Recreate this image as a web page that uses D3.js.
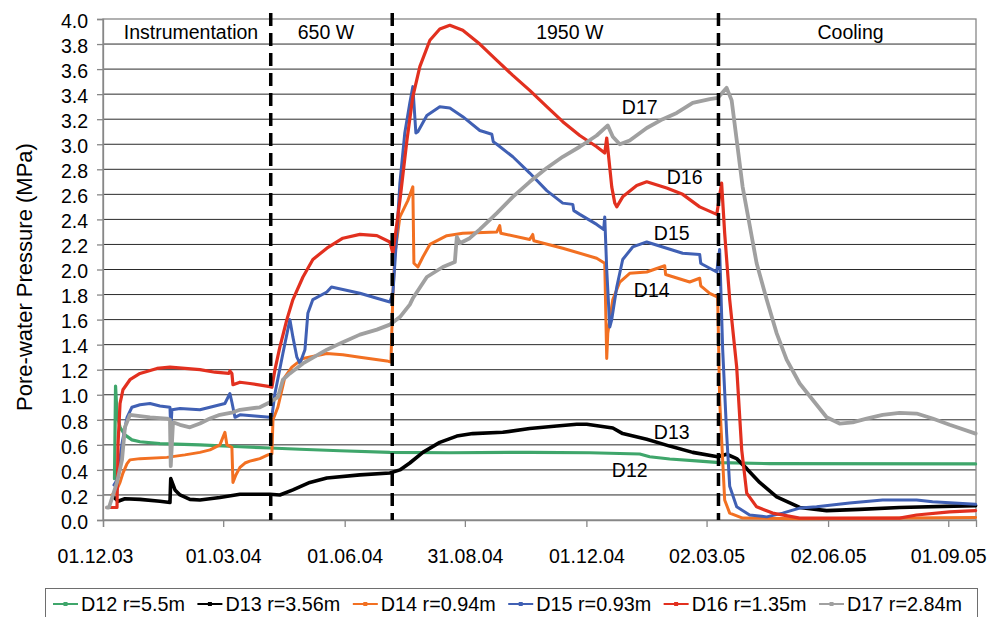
<!DOCTYPE html>
<html>
<head>
<meta charset="utf-8">
<script src="https://cdn.jsdelivr.net/npm/d3@7"></script>
<style>
  html, body { margin: 0; padding: 0; background: #fff; }
  svg { display: block; font-family: "Liberation Sans", Arial, sans-serif; }
</style>
</head>
<body>
<svg id="chart" width="1002" height="617"></svg>
<script>
// Pore-water pressure in the buffer around the heater.
// Each record: [days since 1 Dec 2003, pressure in MPa]
const recordStart = "2003-12-01";
const axisEnd = "2005-09-22";

const d12 = [[8.7,0.33],[9.5,1.07],[10.6,0.85],[12.9,0.74],[16.6,0.68],[21.9,0.64],[28.0,0.625],[43.1,0.61],[73.4,0.60],[103.7,0.585],[126.4,0.575],[149.1,0.565],[179.4,0.553],[217.2,0.54],[262.6,0.537],[323.1,0.54],[368.5,0.537],[406.4,0.527],[413.9,0.505],[429.1,0.487],[451.8,0.47],[466.9,0.458],[504.8,0.45],[660.7,0.448]];

const d13 = [[7.6,0.19],[11.4,0.15],[16.6,0.17],[28.0,0.165],[43.1,0.15],[50.7,0.14],[51.3,0.33],[54.5,0.24],[58.3,0.20],[65.8,0.165],[73.4,0.16],[88.5,0.18],[103.7,0.205],[126.4,0.205],[133.9,0.20],[143.8,0.24],[156.6,0.30],[169.5,0.335],[194.5,0.36],[217.2,0.375],[224.8,0.40],[232.3,0.455],[242.2,0.54],[255.0,0.62],[267.9,0.67],[280.0,0.69],[302.7,0.70],[323.1,0.73],[343.6,0.75],[358.7,0.765],[366.3,0.765],[386.0,0.735],[393.5,0.69],[411.7,0.645],[429.1,0.59],[446.5,0.54],[465.4,0.505],[472.2,0.525],[479.8,0.49],[487.4,0.41],[497.2,0.30],[510.1,0.185],[527.5,0.10],[547.9,0.075],[572.9,0.085],[603.1,0.10],[660.7,0.115]];

const d14 = [[6.8,0.20],[9.1,0.21],[12.9,0.30],[15.1,0.375],[18.2,0.45],[20.4,0.48],[28.0,0.49],[48.4,0.50],[62.0,0.52],[73.4,0.54],[81.0,0.56],[84.8,0.58],[88.5,0.60],[92.3,0.70],[93.8,0.60],[97.6,0.58],[98.4,0.30],[100.6,0.36],[103.7,0.42],[107.5,0.455],[111.2,0.47],[118.8,0.49],[124.9,0.52],[127.9,0.53],[128.7,0.80],[132.4,0.90],[137.7,1.14],[143.0,1.22],[151.4,1.29],[169.5,1.33],[181.6,1.32],[194.5,1.30],[214.9,1.27],[218.0,1.26],[219.5,1.80],[221.0,2.12],[224.8,2.42],[230.8,2.55],[234.6,2.66],[235.4,2.05],[238.4,2.02],[242.2,2.10],[247.5,2.20],[260.3,2.27],[272.4,2.29],[298.2,2.30],[300.4,2.35],[301.2,2.29],[323.1,2.24],[325.4,2.28],[326.2,2.23],[348.1,2.17],[373.8,2.09],[379.9,2.05],[381.4,1.29],[382.2,1.49],[386.0,1.76],[391.3,1.90],[398.8,1.97],[411.7,1.98],[425.3,2.03],[426.0,1.96],[444.2,1.90],[451.8,1.93],[452.6,1.87],[459.4,1.81],[465.4,1.78],[466.9,0.96],[470.7,0.16],[474.5,0.055],[484.3,0.015],[527.5,0.01],[660.7,0.02]];

const d15 = [[8.3,0.28],[10.6,0.32],[14.4,0.61],[18.2,0.82],[21.9,0.90],[28.0,0.92],[35.6,0.93],[43.1,0.91],[50.7,0.90],[51.3,0.72],[52.2,0.88],[58.3,0.89],[73.4,0.88],[84.8,0.91],[92.3,0.93],[96.1,1.01],[97.6,0.94],[99.9,0.82],[103.7,0.84],[115.0,0.83],[126.4,0.82],[127.9,0.83],[130.2,1.01],[136.2,1.33],[141.5,1.60],[143.8,1.46],[146.8,1.30],[149.1,1.25],[152.9,1.36],[155.1,1.65],[158.9,1.76],[169.5,1.82],[173.0,1.86],[181.6,1.84],[194.5,1.81],[207.4,1.77],[217.2,1.74],[219.5,1.81],[222.5,2.29],[224.8,2.69],[228.5,3.09],[232.3,3.33],[234.6,3.46],[236.9,3.09],[238.4,3.10],[245.2,3.23],[255.0,3.30],[262.6,3.29],[272.4,3.22],[285.3,3.11],[294.4,3.08],[295.5,3.02],[298.2,3.00],[310.3,2.90],[323.1,2.77],[336.0,2.63],[348.1,2.53],[355.7,2.52],[356.5,2.47],[361.0,2.44],[373.8,2.36],[379.1,2.32],[379.9,2.42],[381.4,2.00],[383.7,1.54],[385.2,1.60],[389.0,1.86],[393.5,2.08],[401.1,2.18],[411.7,2.22],[423.8,2.18],[438.9,2.13],[451.8,2.12],[452.6,2.05],[454.1,2.04],[464.7,1.98],[466.9,2.16],[469.2,1.36],[472.2,0.69],[474.5,0.27],[479.8,0.105],[489.6,0.04],[502.5,0.025],[514.6,0.055],[527.5,0.095],[540.3,0.105],[565.3,0.135],[590.3,0.16],[616.0,0.16],[628.1,0.145],[660.7,0.125]];

const d16 = [[3.0,0.10],[10.6,0.10],[11.4,0.61],[12.9,0.93],[15.1,1.04],[20.4,1.12],[28.0,1.17],[40.9,1.21],[50.7,1.22],[73.4,1.20],[84.8,1.18],[95.3,1.17],[96.1,1.19],[97.6,1.17],[98.4,1.08],[103.7,1.10],[111.2,1.09],[126.4,1.065],[127.9,1.06],[130.2,1.20],[133.9,1.38],[139.2,1.60],[143.8,1.76],[151.4,1.94],[158.9,2.08],[169.5,2.17],[181.6,2.25],[194.5,2.28],[207.4,2.27],[217.2,2.22],[219.5,2.13],[224.8,2.55],[230.1,3.03],[234.6,3.38],[239.9,3.62],[247.5,3.83],[255.0,3.92],[262.6,3.95],[272.4,3.91],[285.3,3.80],[298.2,3.67],[310.3,3.55],[323.1,3.43],[336.0,3.30],[348.1,3.18],[361.0,3.07],[373.8,2.98],[379.9,2.93],[381.4,3.05],[385.2,2.66],[387.5,2.53],[389.0,2.50],[393.5,2.58],[404.1,2.67],[411.7,2.70],[426.8,2.65],[438.9,2.60],[451.8,2.50],[464.7,2.44],[468.4,2.69],[470.7,2.29],[474.5,1.76],[479.8,1.22],[483.6,0.56],[487.4,0.215],[494.9,0.105],[507.0,0.055],[527.5,0.015],[603.1,0.015],[616.0,0.04],[641.0,0.065],[660.7,0.075]];

const d17 = [[3.0,0.10],[4.5,0.10],[7.6,0.20],[10.6,0.30],[14.4,0.48],[16.6,0.74],[20.4,0.84],[35.6,0.82],[48.4,0.81],[50.7,0.80],[51.3,0.43],[53.0,0.78],[58.3,0.76],[65.8,0.74],[73.4,0.77],[81.0,0.81],[88.5,0.84],[98.4,0.86],[103.7,0.88],[118.8,0.90],[126.4,0.94],[132.4,0.98],[136.2,1.12],[141.5,1.17],[151.4,1.25],[169.5,1.36],[181.6,1.42],[194.5,1.48],[207.4,1.52],[217.2,1.56],[224.8,1.62],[232.3,1.72],[234.6,1.77],[245.2,1.94],[257.3,2.02],[266.4,2.06],[267.9,2.26],[270.2,2.21],[277.7,2.25],[285.3,2.32],[298.2,2.45],[310.3,2.58],[323.1,2.70],[336.0,2.81],[348.1,2.90],[361.0,2.98],[373.8,3.07],[382.2,3.15],[386.0,3.06],[391.3,3.00],[398.8,3.03],[411.7,3.13],[423.8,3.20],[434.4,3.25],[446.5,3.33],[459.4,3.36],[465.4,3.37],[472.2,3.45],[476.0,3.35],[484.3,2.66],[494.9,2.05],[502.5,1.76],[510.1,1.49],[517.6,1.28],[527.5,1.09],[537.3,0.96],[547.9,0.82],[557.7,0.77],[567.6,0.78],[578.2,0.81],[590.3,0.84],[603.1,0.855],[616.0,0.85],[628.1,0.81],[641.0,0.76],[660.7,0.69]];

const seriesData   = [d12, d13, d14, d15, d16, d17];
const seriesNames  = ["D12 r=5.5m", "D13 r=3.56m", "D14 r=0.94m", "D15 r=0.93m", "D16 r=1.35m", "D17 r=2.84m"];
const seriesShort  = ["D12", "D13", "D14", "D15", "D16", "D17"];
const seriesColors = ["#3fa66b", "#000000", "#f27022", "#4060b4", "#e2301f", "#a0a0a0"];
const seriesWidths = [3.2, 3.6, 3, 3, 3.2, 3.8];

// Curve name tags: [day, MPa]
const tagPositions = [[398.8, 0.40], [430.6, 0.70], [415.5, 1.84], [430.6, 2.29], [440.4, 2.74], [406.4, 3.30]];

// Heating phases
const phaseBounds = ["2004-04-06", "2004-07-07", "2005-03-11"];
const phaseNames  = ["Instrumentation", "650 W", "1950 W", "Cooling"];
const phaseTagDays = [66.6, 168.8, 353.4, 566];
const phaseTagLevel = 3.84;

// Axis ticks
const xTickDates = ["2003-12-01", "2004-03-01", "2004-06-01", "2004-08-31", "2004-12-01", "2005-03-02", "2005-06-02", "2005-09-01"];
const yTickValues = [0, 0.2, 0.4, 0.6, 0.8, 1.0, 1.2, 1.4, 1.6, 1.8, 2.0, 2.2, 2.4, 2.6, 2.8, 3.0, 3.2, 3.4, 3.6, 3.8, 4.0];

const parseDay = d3.utcParse("%Y-%m-%d");
const t0 = parseDay(recordStart).getTime();
const dayToDate = d => new Date(t0 + d * 864e5);

const svg = d3.select("#chart");
const W = 1002, H = 617;
const plot = { left: 103, right: 976, top: 19, bottom: 520 };
const fontSize = 19.5;

svg.append("rect").attr("width", W).attr("height", H).attr("fill", "#fff");

const x = d3.scaleUtc()
  .domain([parseDay(recordStart), parseDay(axisEnd)])
  .range([plot.left, plot.right]);
const y = d3.scaleLinear().domain([0, 4]).range([plot.bottom, plot.top]);

// Horizontal gridlines
svg.append("g")
  .selectAll("line")
  .data(yTickValues.filter(v => v > 0 && v < 4))
  .join("line")
  .attr("x1", plot.left).attr("x2", plot.right)
  .attr("y1", d => y(d)).attr("y2", d => y(d))
  .attr("stroke", "#2a2a2a").attr("stroke-width", 1);

// Plot frame
svg.append("rect")
  .attr("x", plot.left).attr("y", plot.top)
  .attr("width", plot.right - plot.left).attr("height", plot.bottom - plot.top)
  .attr("fill", "none").attr("stroke", "#878787").attr("stroke-width", 1.3);

// Y axis
const yAxis = svg.append("g")
  .attr("transform", `translate(${plot.left},0)`)
  .call(d3.axisLeft(y).tickValues(yTickValues).tickFormat(d3.format(".1f")).tickSize(6).tickPadding(9));
yAxis.select(".domain").attr("stroke", "#878787").attr("stroke-width", 1.3);
yAxis.selectAll(".tick line").attr("stroke", "#878787").attr("stroke-width", 1.3);
yAxis.selectAll(".tick text")
  .attr("font-size", fontSize).attr("font-family", "Liberation Sans, Arial, sans-serif")
  .attr("fill", "#000").attr("dy", "0.42em");

// X axis
const xAxis = svg.append("g")
  .attr("transform", `translate(0,${plot.bottom})`)
  .call(d3.axisBottom(x).tickValues(xTickDates.map(parseDay)).tickFormat(d3.utcFormat("%d.%m.%y")).tickSize(7).tickPadding(22));
xAxis.select(".domain").attr("stroke", "#878787").attr("stroke-width", 1.3);
xAxis.selectAll(".tick line").attr("stroke", "#878787").attr("stroke-width", 1.3);
xAxis.selectAll(".tick text")
  .attr("font-size", fontSize).attr("font-family", "Liberation Sans, Arial, sans-serif")
  .attr("fill", "#000")
  .attr("dx", (d, i) => i === 0 ? -8 : 0);

// Series lines
const line = d3.line()
  .x(d => x(dayToDate(d[0])))
  .y(d => y(d[1]));

svg.append("g")
  .selectAll("path")
  .data(seriesData)
  .join("path")
  .attr("d", line)
  .attr("fill", "none")
  .attr("stroke", (d, i) => seriesColors[i])
  .attr("stroke-width", (d, i) => seriesWidths[i])
  .attr("stroke-linejoin", "round")
  .attr("stroke-linecap", "round");

// Phase boundaries
svg.append("g")
  .selectAll("line")
  .data(phaseBounds)
  .join("line")
  .attr("x1", d => x(parseDay(d))).attr("x2", d => x(parseDay(d)))
  .attr("y1", plot.top - 6).attr("y2", plot.bottom)
  .attr("stroke", "#000").attr("stroke-width", 3.5)
  .attr("stroke-dasharray", "13,7");

// Phase names
svg.append("g")
  .selectAll("text")
  .data(phaseNames)
  .join("text")
  .attr("x", (d, i) => x(dayToDate(phaseTagDays[i])))
  .attr("y", y(phaseTagLevel))
  .attr("text-anchor", "middle")
  .attr("font-size", fontSize)
  .text(d => d);

// Curve name tags
svg.append("g")
  .selectAll("text")
  .data(seriesShort)
  .join("text")
  .attr("x", (d, i) => x(dayToDate(tagPositions[i][0])))
  .attr("y", (d, i) => y(tagPositions[i][1]))
  .attr("dy", "0.36em")
  .attr("text-anchor", "middle")
  .attr("font-size", fontSize)
  .text(d => d);

// Y axis title
svg.append("text")
  .attr("transform", "translate(32,277) rotate(-90)")
  .attr("text-anchor", "middle")
  .attr("font-size", 22)
  .text("Pore-water Pressure (MPa)");

// Legend
const legend = svg.append("g");
legend.append("rect")
  .attr("x", 45.5).attr("y", 588.5)
  .attr("width", 932).attr("height", 40)
  .attr("fill", "#fff").attr("stroke", "#6e6e6e").attr("stroke-width", 1);

let lx = 53;
const ly = 604;
seriesNames.forEach((name, i) => {
  const g = legend.append("g");
  g.append("line")
    .attr("x1", lx).attr("x2", lx + 25)
    .attr("y1", ly).attr("y2", ly)
    .attr("stroke", seriesColors[i]).attr("stroke-width", 2);
  g.append("rect")
    .attr("x", lx + 10.5).attr("y", ly - 2)
    .attr("width", 4).attr("height", 4)
    .attr("fill", seriesColors[i]);
  const t = g.append("text")
    .attr("x", lx + 28).attr("y", ly).attr("dy", "0.36em")
    .attr("font-size", 19.8)
    .text(name);
  lx += 28 + t.node().getComputedTextLength() + 12.5;
});
</script>
</body>
</html>
